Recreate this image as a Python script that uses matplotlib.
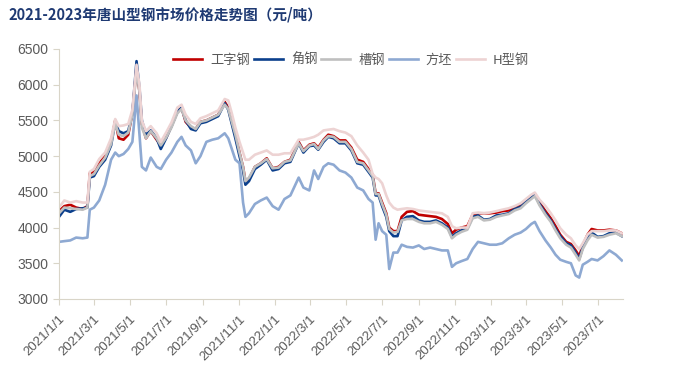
import matplotlib
matplotlib.use("Agg")
import matplotlib.pyplot as plt
import pandas as pd

dates = ["2021-01-01","2021-01-10","2021-01-20","2021-01-30","2021-02-10","2021-02-18","2021-02-22","2021-03-01",
"2021-03-10","2021-03-20","2021-03-30","2021-04-06","2021-04-12","2021-04-20","2021-04-28","2021-05-05","2021-05-12",
"2021-05-17","2021-05-21","2021-05-28","2021-06-05","2021-06-15","2021-06-22","2021-07-01","2021-07-10","2021-07-20",
"2021-07-27","2021-08-03","2021-08-12","2021-08-20","2021-08-28","2021-09-07","2021-09-17","2021-09-27","2021-10-08",
"2021-10-14","2021-10-20","2021-10-26","2021-11-02","2021-11-08","2021-11-12","2021-11-18","2021-11-28","2021-12-08",
"2021-12-18","2021-12-28","2022-01-07","2022-01-17","2022-01-27","2022-02-10","2022-02-18","2022-02-28","2022-03-08",
"2022-03-15","2022-03-24","2022-04-01","2022-04-10","2022-04-20","2022-04-30","2022-05-10","2022-05-20","2022-05-30",
"2022-06-08","2022-06-15","2022-06-20","2022-06-25","2022-07-01","2022-07-08","2022-07-13","2022-07-20","2022-07-27",
"2022-08-03","2022-08-12","2022-08-22","2022-09-01","2022-09-10","2022-09-20","2022-09-30","2022-10-10","2022-10-20",
"2022-10-27","2022-11-03","2022-11-12","2022-11-22","2022-12-01","2022-12-10","2022-12-20","2022-12-30","2023-01-10",
"2023-01-20","2023-01-31","2023-02-10","2023-02-20","2023-03-01","2023-03-10","2023-03-16","2023-03-24","2023-04-03",
"2023-04-12","2023-04-20","2023-04-28","2023-05-08","2023-05-16","2023-05-24","2023-05-30","2023-06-05","2023-06-13",
"2023-06-20","2023-06-30","2023-07-10","2023-07-20","2023-07-31","2023-08-10"]

i_beam = [4230,4300,4320,4280,4260,4300,4760,4780,4900,5000,5200,5500,5250,5230,5300,5600,6250,
5900,5450,5250,5350,5230,5150,5260,5420,5620,5680,5480,5400,5380,5480,5500,5540,5580,5760,
5680,5480,5300,5050,4850,4650,4680,4850,4900,4970,4830,4850,4920,4950,5200,5080,5160,5180,
5120,5230,5300,5280,5220,5220,5120,4950,4920,4820,4740,4480,4480,4350,4200,4000,3950,3950,
4150,4220,4230,4180,4170,4160,4150,4120,4050,3920,3970,4000,4020,4180,4200,4200,4200,4210,
4230,4240,4280,4310,4380,4440,4470,4350,4230,4130,4020,3900,3800,3770,3680,3600,3750,3900,
3980,3960,3960,3970,3960,3920]

angle = [4150,4250,4220,4260,4270,4280,4700,4720,4850,4950,5150,5480,5350,5320,5350,5600,6330,
5950,5500,5300,5360,5250,5100,5250,5420,5620,5680,5500,5380,5360,5460,5480,5520,5560,5740,
5650,5450,5250,5000,4800,4600,4650,4820,4880,4950,4800,4820,4900,4920,5180,5050,5140,5150,
5090,5200,5270,5250,5180,5180,5080,4900,4880,4780,4700,4450,4450,4300,4150,3950,3880,3880,
4100,4150,4160,4100,4080,4080,4100,4060,4000,3870,3920,3960,3990,4150,4170,4110,4120,4170,
4180,4200,4260,4290,4360,4420,4460,4330,4200,4100,3980,3880,3780,3750,3650,3560,3720,3850,
3930,3870,3880,3920,3930,3880]

channel = [4200,4280,4270,4260,4250,4280,4720,4750,4870,4980,5170,5460,5300,5280,5330,5580,6200,
5900,5400,5250,5350,5250,5150,5260,5400,5600,5660,5500,5420,5380,5480,5500,5540,5580,5720,
5660,5480,5300,5050,4850,4650,4700,4850,4900,4960,4830,4840,4920,4940,5180,5070,5150,5170,
5100,5220,5280,5270,5200,5200,5100,4920,4900,4800,4720,4470,4470,4330,4180,3980,3930,3940,
4100,4120,4120,4080,4060,4060,4080,4040,3980,3850,3900,3940,3970,4130,4150,4100,4110,4150,
4170,4190,4240,4270,4340,4400,4440,4310,4180,4080,3960,3850,3760,3720,3620,3540,3700,3820,
3900,3860,3870,3900,3920,3880]

billet = [3800,3810,3820,3860,3850,3860,4250,4280,4380,4600,4950,5050,5000,5030,5100,5200,5850,
5300,4850,4800,4980,4850,4820,4950,5050,5200,5270,5150,5080,4900,5000,5200,5230,5250,5320,
5250,5100,4950,4900,4350,4150,4200,4330,4380,4420,4300,4250,4400,4450,4700,4560,4520,4800,
4680,4850,4900,4880,4800,4770,4700,4560,4520,4400,4350,3830,4060,3950,3900,3420,3650,3650,
3760,3730,3720,3750,3700,3720,3700,3680,3680,3450,3500,3530,3560,3700,3800,3780,3760,3760,
3780,3850,3900,3930,3980,4050,4080,3950,3820,3720,3620,3550,3520,3500,3330,3300,3480,3520,
3560,3540,3600,3680,3620,3540]

h_beam = [4280,4380,4350,4370,4350,4350,4780,4820,4960,5050,5250,5520,5420,5430,5450,5650,6280,
6000,5500,5350,5420,5320,5200,5330,5470,5680,5720,5580,5480,5450,5530,5560,5600,5640,5800,
5780,5600,5400,5200,5050,4950,4950,5020,5050,5080,5020,5020,5040,5040,5230,5230,5250,5270,
5300,5360,5370,5380,5350,5330,5280,5150,5050,4950,4750,4700,4680,4620,4450,4350,4280,4250,
4260,4270,4260,4240,4230,4220,4210,4200,4150,4020,3990,4000,4000,4200,4210,4200,4210,4230,
4250,4270,4300,4340,4400,4460,4490,4390,4300,4200,4100,3990,3900,3850,3750,3700,3780,3900,
3950,3950,3950,3960,3960,3920]

series_names = ["工字钢", "角钢", "槽钢", "方坯", "H型钢"]
series_vals = [i_beam, angle, channel, billet, h_beam]
colors = ["#C00000", "#0B3F8C", "#BFBFBF", "#8EA9D2", "#EDD3D3"]

x = pd.to_datetime(dates)

plt.rcParams['font.family'] = ['Liberation Sans', 'Noto Sans CJK SC', 'DejaVu Sans']
fig = plt.figure(figsize=(6.76, 3.79), dpi=100)
ax = fig.add_axes([59/676, 1-299/379, (623-59)/676, 250/379])

for name, vals, c in zip(series_names, series_vals, colors):
    ax.plot(x, vals, color=c, lw=1.9, label=name)

ax.set_ylim(3000, 6500)
ax.set_yticks(range(3000, 6501, 500))
ax.set_xlim(pd.Timestamp("2021-01-01"), pd.Timestamp("2023-08-12"))
ticks = pd.date_range("2021-01-01", "2023-07-01", freq="2MS")
ax.set_xticks(ticks)
ax.set_xticklabels([f"{t.year}/{t.month}/1" for t in ticks], rotation=45, ha="right",
                   rotation_mode="anchor", fontsize=9.5, color="#595959")
ax.tick_params(axis='y', labelsize=10, colors="#595959", length=4, color="#D9D5C8")
ax.tick_params(axis='x', length=4, color="#D9D5C8", pad=6)
for s in ["top", "right"]:
    ax.spines[s].set_visible(False)
for s in ["left", "bottom"]:
    ax.spines[s].set_color("#D9D5C8")

leg = ax.legend(loc="center", bbox_to_anchor=(0.518, 0.955), ncol=5, frameon=False,
                handlelength=2.2, columnspacing=0.3, handletextpad=0.6,
                prop={'family': ['Noto Sans CJK SC'], 'size': 9.5})
for t in leg.get_texts():
    t.set_color("#595959")

fig.text(8/676, 1-14/379, "2021-2023年唐山型钢市场价格走势图（元/吨）", fontsize=10.5,
         fontweight="bold", color="#1F3A73", va="center", ha="left",
         family=['Noto Sans CJK SC', 'DejaVu Sans'])

fig.savefig("out.png", dpi=100)
